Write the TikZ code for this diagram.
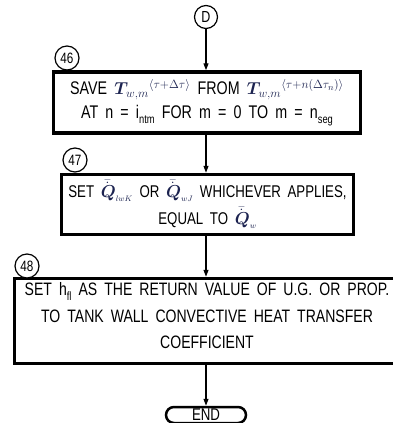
\documentclass[tikz,border=0pt]{standalone}
\usepackage{amsmath}
\usepackage{fontspec}
\setmainfont[FakeStretch=0.78,WordSpace=1.8]{Liberation Sans}
\usetikzlibrary{arrows.meta}
\definecolor{mathc}{RGB}{28,35,80}
\newcommand{\lsub}[1]{\raisebox{-0.45ex}{\fontsize{12}{12}\selectfont #1}}
\newcommand{\Tone}{\textcolor{mathc}{$\boldsymbol{T}_{\!w,m}{}^{\langle\tau+\Delta\tau\rangle}$}}
\newcommand{\Ttwo}{\textcolor{mathc}{$\boldsymbol{T}_{\!w,m}{}^{\langle\tau+n(\Delta\tau_n)\rangle}$}}
\newcommand{\Qlwk}{\textcolor{mathc}{$\bar{\dot{\boldsymbol{Q}}}_{\scriptscriptstyle lwK}$}}
\newcommand{\Qwj}{\textcolor{mathc}{$\bar{\dot{\boldsymbol{Q}}}_{\scriptscriptstyle wJ}$}}
\newcommand{\Qw}{\textcolor{mathc}{$\bar{\dot{\boldsymbol{Q}}}_{\scriptscriptstyle w}$}}
\tikzset{
  box/.style={draw, line width=3.5pt, inner sep=0pt},
  txt/.style={align=center, inner sep=0pt, font=\fontsize{18}{24}\selectfont},
  lbl/.style={draw, circle, line width=1.2pt, minimum size=24pt, inner sep=0pt, font=\fontsize{15}{15}\selectfont},
  arr/.style={line width=1.2pt, -{Triangle[length=7pt,width=5pt]}},
  term/.style={draw, line width=2.5pt, rounded corners=8pt, minimum width=80pt, minimum height=16pt, inner sep=0pt, font=\fontsize{17}{17}\selectfont},
}
\begin{document}
\begin{tikzpicture}[x=1pt,y=-1pt]
\useasboundingbox (0,0) rectangle (393,423);
% start connector
\node[lbl, minimum size=23pt, font=\fontsize{16}{16}\selectfont] (D) at (206,17) {D};
% box 46
\node[box, minimum width=307pt, minimum height=61pt] (b46) at (207,102.5) {};
\node[txt, font=\fontsize{18.3}{24}\selectfont] (t46) at (207,102.5) {SAVE \Tone{} FROM \Ttwo\\AT n = i\lsub{ntm} FOR m = 0 TO m = n\lsub{seg}};
\node[lbl, fill=white] (l46) at (67,58) {46};
% box 47
\node[box, minimum width=292pt, minimum height=60pt] (b47) at (207.5,204.5) {};
\node[txt, font=\fontsize{17}{27}\selectfont] (t47) at (207.5,204.5) {SET \Qlwk{} OR \Qwj{} WHICHEVER APPLIES,\\EQUAL TO \Qw};
\node[lbl, fill=white] (l47) at (75,160) {47};
% box 48
\node[box, minimum width=385pt, minimum height=85pt] (b48) at (207,321) {};
\node[txt, font=\fontsize{18}{26.5}\selectfont] (t48) at (207,316) {SET h\lsub{fl} AS THE RETURN VALUE OF U.G. OR PROP.\\TO TANK WALL CONVECTIVE HEAT TRANSFER\\COEFFICIENT};
\node[lbl, fill=white] (l48) at (27,266) {48};
% end
\node[term] (E) at (206,415) {END};
% connectors
\draw[arr] (D.south) -- (D.south |- b46.north);
\draw[arr] (D.south |- b46.south) -- (D.south |- b47.north);
\draw[arr] (D.south |- b47.south) -- (D.south |- b48.north);
\draw[arr] (D.south |- b48.south) -- (E.north);
\end{tikzpicture}
\end{document}
